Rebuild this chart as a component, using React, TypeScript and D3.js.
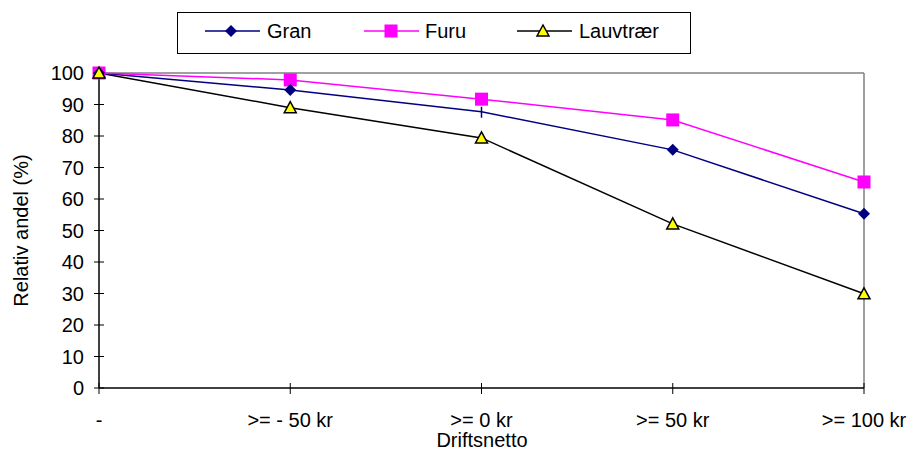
import React from "react";
import * as d3 from "d3";

const categories = ["-", ">= - 50 kr", ">= 0 kr", ">= 50 kr", ">= 100 kr"];
const gran = [100, 94.6, 87.7, 75.6, 55.3];
const furu = [100, 97.8, 91.7, 85.1, 65.4];
const lauvtraer = [100, 89, 79.4, 52.1, 29.9];
const yTicks = [0, 10, 20, 30, 40, 50, 60, 70, 80, 90, 100];

const W = 911, H = 450;
const left = 99, right = 864, top = 73, bottom = 388;
const FONT = "'Liberation Sans', Arial, sans-serif";
const FS = 20;

export default function App() {
  const x = d3.scalePoint<string>().domain(categories).range([left, right]);
  const y = d3.scaleLinear().domain([0, 100]).range([bottom, top]);
  const line = d3.line<number>().x((_, i) => x(categories[i])!).y(d => y(d));

  const diamond = (cx: number, cy: number, k: string | number) => (
    <path key={k} d={`M${cx},${cy - 6}L${cx + 6},${cy}L${cx},${cy + 6}L${cx - 6},${cy}Z`} fill="#000080" />
  );
  const square = (cx: number, cy: number, k: string | number) => (
    <rect key={k} x={cx - 6.5} y={cy - 6.5} width={13} height={13} fill="#FF00FF" />
  );
  const tri = (cx: number, cy: number, k: string | number) => (
    <path key={k} d={`M${cx},${cy - 6}L${cx + 6},${cy + 5}L${cx - 6},${cy + 5}Z`} fill="#FFFF00" stroke="#000" strokeWidth={1.5} strokeLinejoin="miter" />
  );

  return (
    <div style={{ position: "absolute", left: 0, top: 0 }}>
      <svg width={W} height={H} style={{ display: "block", background: "#fff" }} fontFamily={FONT}>
        {/* plot border top/right */}
        <line x1={left} y1={top} x2={right} y2={top} stroke="#808080" strokeWidth={1.5} />
        <line x1={right} y1={top} x2={right} y2={bottom} stroke="#808080" strokeWidth={1.5} />
        {/* axes */}
        <line x1={left} y1={top} x2={left} y2={bottom} stroke="#000" strokeWidth={1.5} />
        <line x1={left} y1={bottom} x2={right} y2={bottom} stroke="#000" strokeWidth={1.5} />
        {yTicks.map(t => (
          <g key={t}>
            <line x1={left - 5} x2={left + 5} y1={y(t)} y2={y(t)} stroke="#000" strokeWidth={1} />
            <text x={84} y={y(t)} dy="0.36em" textAnchor="end" fontSize={FS}>{t}</text>
          </g>
        ))}
        {categories.map(c => (
          <g key={c}>
            <line x1={x(c)} x2={x(c)} y1={bottom - 5} y2={bottom + 6} stroke="#000" strokeWidth={1} />
            <text x={x(c)} y={427} textAnchor="middle" fontSize={FS}>{c}</text>
          </g>
        ))}
        <text x={482} y={447} textAnchor="middle" fontSize={FS}>Driftsnetto</text>
        <text transform={`translate(28,${(top + bottom) / 2}) rotate(-90)`} textAnchor="middle" fontSize={FS}>Relativ andel (%)</text>

        {/* series */}
        <path d={line(lauvtraer)!} fill="none" stroke="#000" strokeWidth={1.5} />
        <path d={line(gran)!} fill="none" stroke="#000080" strokeWidth={1.5} />
        <path d={line(furu)!} fill="none" stroke="#FF00FF" strokeWidth={1.5} />
        {furu.map((v, i) => square(x(categories[i])!, y(v), "f" + i))}
        {gran.map((v, i) =>
          i === 2 ? (
            <line key={"g" + i} x1={x(categories[i])} x2={x(categories[i])} y1={y(v) - 5} y2={y(v) + 6} stroke="#000080" strokeWidth={1.5} />
          ) : (
            diamond(x(categories[i])!, y(v), "g" + i)
          )
        )}
        {lauvtraer.map((v, i) => tri(x(categories[i])!, y(v), "l" + i))}

        {/* legend */}
        <rect x={177.5} y={12.5} width={513} height={41} fill="#fff" stroke="#000" strokeWidth={1} />
        <line x1={205} x2={260} y1={31} y2={31} stroke="#000080" strokeWidth={1.5} />
        {diamond(231, 31, "lg")}
        <text x={267} y={31} dy="0.36em" fontSize={FS}>Gran</text>
        <line x1={364} x2={419} y1={31} y2={31} stroke="#FF00FF" strokeWidth={1.5} />
        {square(391, 31, "lf")}
        <text x={425} y={31} dy="0.36em" fontSize={FS}>Furu</text>
        <line x1={517} x2={572} y1={31} y2={31} stroke="#000" strokeWidth={1.5} />
        {tri(543, 31, "ll")}
        <text x={579} y={31} dy="0.36em" fontSize={FS}>Lauvtrær</text>
      </svg>
    </div>
  );
}
